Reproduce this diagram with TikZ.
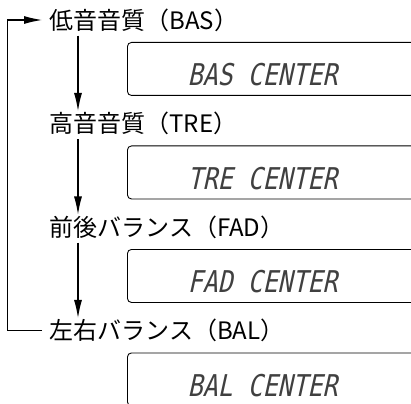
\documentclass[tikz,border=0pt]{standalone}
\usepackage{fontspec}
\setmainfont{Noto Sans CJK JP}
\newfontfamily\lcdfont[FakeSlant=0.22,FakeStretch=0.83]{DejaVu Sans Mono}
\usetikzlibrary{arrows.meta}
\begin{document}
\begin{tikzpicture}[x=1pt,y=-1pt,line width=1.1pt,
  lab/.style={anchor=west,inner sep=0pt,minimum height=30pt,font=\fontsize{24}{24}\selectfont},
  lcdbox/.style={draw,rounded corners=4pt,line width=0.9pt,anchor=north west,minimum width=300pt,minimum height=53pt,inner sep=0pt},
  lcdtext/.style={anchor=west,inner sep=0pt,text height=21pt,text depth=0pt,text=black!75,font=\lcdfont\fontsize{30}{30}\selectfont},
  flow/.style={-{Latex[length=18pt,width=8pt]}}]
\useasboundingbox (0,0) rectangle (411,403);
\clip (0,0) rectangle (411,403);
\node[lab] (bas) at (49,20) {低音音質（BAS）};
\node[lab] (tre) at (49,123.5) {高音音質（TRE）};
\node[lab] (fad) at (49,227) {前後バランス（FAD）};
\node[lab] (bal) at (49,330.5) {左右バランス（BAL）};
\node[lcdbox] (dbas) at (127,42) {};
\node[lcdbox] (dtre) at (127,145.5) {};
\node[lcdbox] (dfad) at (127,249) {};
\node[lcdbox] (dbal) at (127,352.5) {};
\node[lcdtext] (tbas) at ([xshift=60pt,yshift=-6.5pt]dbas.west) {BAS CENTER};
\node[lcdtext] (ttre) at ([xshift=60pt,yshift=-6.5pt]dtre.west) {TRE CENTER};
\node[lcdtext] (tfad) at ([xshift=60pt,yshift=-6.5pt]dfad.west) {FAD CENTER};
\node[lcdtext] (tbal) at ([xshift=60pt,yshift=-6.5pt]dbal.west) {BAL CENTER};
\draw[flow] ([xshift=29pt]bas.south west) -- ([xshift=29pt,yshift=-3pt]tre.north west);
\draw[flow] ([xshift=29pt]tre.south west) -- ([xshift=29pt,yshift=-3pt]fad.north west);
\draw[flow] ([xshift=29pt]fad.south west) -- ([xshift=29pt,yshift=-3pt]bal.north west);
\coordinate (loopb) at (7.5,330.5);
\coordinate (loopt) at (7.5,20);
\draw[flow] ([xshift=-7pt]bal.west) -- (loopb) -- (loopt) -- ([xshift=-7pt]bas.west);
\end{tikzpicture}
\end{document}
